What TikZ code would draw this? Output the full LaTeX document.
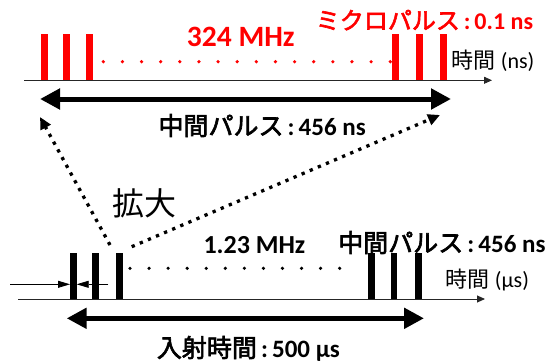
\documentclass[tikz,border=0pt]{standalone}
\usepackage{fontspec}
\setmainfont{Carlito}
\newfontfamily\jp{Noto Sans CJK JP}
\newfontfamily\jpb[FakeBold=2.5]{Noto Sans CJK JP}
\newcommand\jpbold[1]{{\jpb\mdseries #1}}
\usetikzlibrary{arrows.meta}
\begin{document}
\begin{tikzpicture}[x=1pt,y=-1pt,
  redbar/.style={fill=red,draw=none,inner sep=0,minimum width=7pt,minimum height=45.7pt,anchor=south},
  blackbar/.style={fill=black,draw=none,inner sep=0,minimum width=6.7pt,minimum height=45.7pt,anchor=south},
  axisline/.style={line width=0.9pt,draw=black!85,-{Triangle[length=8pt,width=7pt]}},
  spanarrow/.style={line width=5pt,{Triangle[length=20pt,width=20pt]}-{Triangle[length=20pt,width=20pt]}},
  zoomline/.style={line width=3.3pt,dash pattern=on 3.3pt off 5.5pt,-{Triangle[length=12pt,width=11pt]}},
  tickarrow/.style={line width=0.8pt,-{Triangle[length=12pt,width=7pt]}},
  lbl/.style={inner sep=0pt}]
\useasboundingbox (0,0) rectangle (548,362);
% ---------- top (ns) ----------
\coordinate (ta0) at (24,80.3);
\coordinate (ta1) at (492,80.3);
\draw[axisline] (ta0) -- (ta1);
\node[redbar] (r1) at (44.7,80) {};
\node[redbar] (r2) at (66.3,80) {};
\node[redbar] (r3) at (89.7,80) {};
\node[redbar] (r4) at (395.7,80) {};
\node[redbar] (r5) at (419,80) {};
\node[redbar] (r6) at (443,80) {};
\foreach \i in {0,...,15} \fill[red] (103.3+19.13*\i,61.7) circle (1.8pt);
\coordinate (ts0) at (40,99);
\coordinate (ts1) at (451,99);
\draw[spanarrow] (ts0) -- (ts1);
\node[lbl,anchor=base,text=red,font=\fontsize{29.5}{32}\selectfont\bfseries] (f1) at (240.8,46.7) {324 MHz};
\node[lbl,anchor=base east,text=red,font=\fontsize{24}{28}\selectfont\bfseries] (micro) at (533.3,29.3) {\jpbold{ミクロパルス}\,:\,0.1 ns};
\node[lbl,anchor=base west,font=\fontsize{22}{26}\selectfont] (t1) at (451.7,68.5) {{\jp 時間} (ns)};
\node[lbl,anchor=base west,font=\fontsize{25}{30}\selectfont\bfseries] (mid1) at (158.3,135) {\jpbold{中間パルス}\,:\,456 ns};
% ---------- zoom lines ----------
\coordinate (z1a) at (110,245);
\coordinate (z1b) at (40,117);
\coordinate (z2a) at (131.7,246.7);
\coordinate (z2b) at (440,115);
\draw[zoomline] (z1a) -- (z1b);
\draw[zoomline] (z2a) -- (z2b);
\node[lbl,font=\jp\fontsize{32}{36}\selectfont] (kakudai) at (144,203) {拡大};
% ---------- bottom (us) ----------
\coordinate (ba0) at (18,299);
\coordinate (ba1) at (485,299);
\draw[axisline] (ba0) -- (ba1);
\coordinate (p0) at (10,284.3);
\coordinate (p1) at (70,284.3);
\coordinate (q0) at (108.3,284.3);
\coordinate (q1) at (76.7,284.3);
\draw[tickarrow] (p0) -- (p1);
\draw[tickarrow] (q0) -- (q1);
\node[blackbar] (b1) at (73.3,299) {};
\node[blackbar] (b2) at (95.3,299) {};
\node[blackbar] (b3) at (119.7,299) {};
\node[blackbar] (b4) at (371.7,299) {};
\node[blackbar] (b5) at (394,299) {};
\node[blackbar] (b6) at (418.3,299) {};
\foreach \i in {0,...,11} \fill[black] (130+19.06*\i,268.3) circle (1.8pt);
\coordinate (bs0) at (66.7,318.3);
\coordinate (bs1) at (424,318.3);
\draw[spanarrow] (bs0) -- (bs1);
\node[lbl,anchor=base west,font=\fontsize{26}{30}\selectfont\bfseries] (f2) at (203.3,253.3) {1.23 MHz};
\node[lbl,anchor=base east,font=\fontsize{25}{30}\selectfont\bfseries] (mid2) at (545.7,252) {\jpbold{中間パルス}\,:\,456 ns};
\node[lbl,anchor=base west,font=\fontsize{22}{26}\selectfont] (t2) at (445.7,287.3) {{\jp 時間} (µs)};
\node[lbl,anchor=base west,font=\fontsize{25}{30}\selectfont\bfseries] (inj) at (156.7,357) {\jpbold{入射時間}\,:\,500 µs};
\end{tikzpicture}
\end{document}
